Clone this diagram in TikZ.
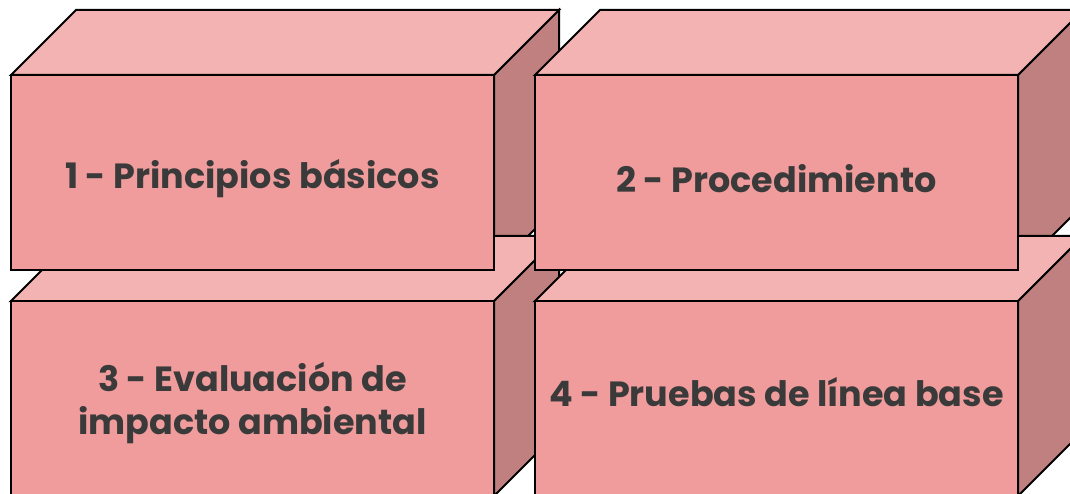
\documentclass[tikz,border=0pt]{standalone}
\usepackage{fontspec}
\setmainfont{Poppins}
\usetikzlibrary{backgrounds}
\pgfdeclarelayer{back}
\pgfsetlayers{back,background,main}
\definecolor{frontpink}{RGB}{240,156,156}
\definecolor{toppink}{RGB}{244,179,179}
\definecolor{sidepink}{RGB}{192,128,128}
\definecolor{textgray}{RGB}{58,58,58}

\begin{document}
\begin{tikzpicture}[
	x=1pt, y=-1pt,
	face/.style={
		rectangle,
		draw=black, line width=2pt, fill=frontpink,
		minimum width=483pt, minimum height=195pt,
		inner sep=0pt, outer sep=0pt
	},
	boxtext/.style={
		align=center, text=textgray, inner sep=0pt,
		font=\bfseries\fontsize{35}{43}\selectfont
	},
	topface/.style={draw=black, line width=2pt, fill=toppink},
	sideface/.style={draw=black, line width=2pt, fill=sidepink},
	]
	\useasboundingbox (0,0) rectangle (1070,494);

	\node [face] (p1) at (252.5,172.5) {};
	\node [face] (p2) at (776.5,172.5) {};
	\node [face] (p3) at (252.5,398.5) {};
	\node [face] (p4) at (776.5,398.5) {};

	\node [boxtext] (t1) at ([yshift=-6pt]p1.center) {1 - Principios básicos};
	\node [boxtext] (t2) at ([yshift=-6pt]p2.center) {2 - Procedimiento};
	\node [boxtext] (t3) at ([yshift=-5pt]p3.center) {3 - Evaluación de\\impacto ambiental};
	\node [boxtext] (t4) at ([yshift=6pt]p4.center) {4 - Pruebas de línea base};

	% top and right faces of each box
	\foreach \b in {p1,p2,p3,p4} {
		\begin{pgfonlayer}{background}
			\path [topface] (\b.north west) -- ++(65,-65)
				-- ([shift={(65,-65)}]\b.north east) -- (\b.north east) -- cycle;
		\end{pgfonlayer}
		\begin{pgfonlayer}{back}
			\path [sideface] (\b.north east) -- ++(65,-65)
				-- ([shift={(65,-65)}]\b.south east) -- (\b.south east) -- cycle;
		\end{pgfonlayer}
	}
\end{tikzpicture}
\end{document}
